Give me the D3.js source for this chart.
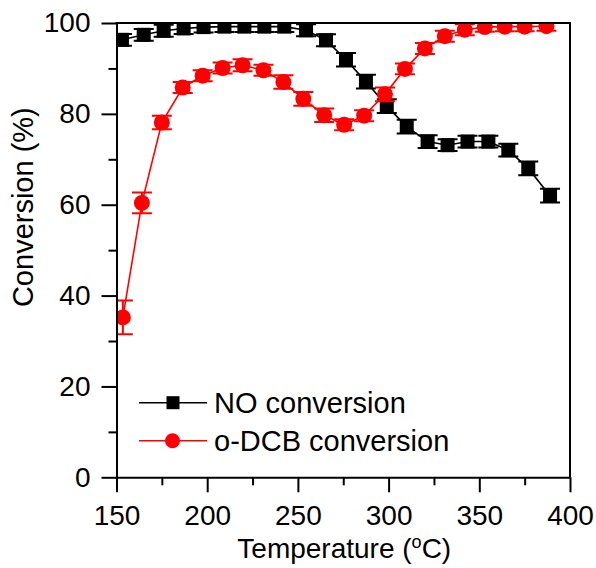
<!DOCTYPE html>
<html>
<head>
<meta charset="utf-8">
<script src="https://cdn.jsdelivr.net/npm/d3@7"></script>
<style>
  html, body { margin: 0; padding: 0; background: #fff; }
  svg { display: block; font-family: "Liberation Sans", Arial, sans-serif; }
</style>
</head>
<body>
<svg id="chart" width="596" height="568"></svg>
<script>
// ---- data ----
const noTemp = [153, 165, 176, 187, 198, 209.5, 220.5, 231.5, 242.5, 254.5, 265.5, 276.5, 287.5, 299, 310, 321.5, 332.5, 343.5, 355, 366, 377, 389];
const noVal  = [96.3, 97.4, 98.3, 98.8, 99.1, 99.2, 99.2, 99.2, 99.2, 98.4, 96.2, 91.9, 87.1, 81.7, 77.2, 73.9, 73.1, 73.9, 73.9, 72.0, 68.0, 62.0];
const noErr  = [1.3, 1.3, 1.3, 1.2, 1.2, 1.2, 1.2, 1.2, 1.2, 1.3, 1.3, 1.5, 1.5, 1.5, 1.5, 1.4, 1.3, 1.3, 1.3, 1.4, 1.5, 1.5];

const dcbTemp = [153.5, 164, 175, 186.5, 197.5, 208.5, 219.5, 231, 242, 253, 264.5, 275.5, 286.5, 298, 309, 320, 331, 342, 353, 364, 375, 387];
const dcbVal  = [35.2, 60.4, 78.1, 85.8, 88.4, 90.1, 90.7, 89.6, 87.0, 83.3, 79.7, 77.6, 79.6, 84.3, 89.9, 94.4, 97.1, 98.5, 99.1, 99.2, 99.2, 99.3];
const dcbErr  = [3.7, 2.3, 1.5, 1.2, 1.2, 1.2, 1.3, 1.2, 1.5, 1.5, 1.5, 1.2, 1.2, 1.5, 1.2, 1.2, 1.2, 1.2, 1.0, 1.0, 1.0, 1.0];

const xTicks = [150, 200, 250, 300, 350, 400];
const xMinor = [175, 225, 275, 325, 375];
const yTicks = [0, 20, 40, 60, 80, 100];
const yMinor = [10, 30, 50, 70, 90];

const seriesNames = ["NO conversion", "o-DCB conversion"];
const seriesColors = ["#000000", "#ff0000"];

// ---- layout ----
const L = 116.5, R = 570, T = 23, B = 477.3;
const SQ = 14, CR = 8;
const svg = d3.select("#chart");
const x = d3.scaleLinear().domain([150, 400]).range([L, R]);
const y = d3.scaleLinear().domain([0, 100]).range([B, T]);

svg.append("defs").append("clipPath").attr("id", "clip")
  .append("rect").attr("x", L).attr("y", T).attr("width", R - L).attr("height", B - T);

const plot = svg.append("g").attr("clip-path", "url(#clip)");

function drawSeries(temps, vals, errs, color, shape) {
  const data = temps.map((t, i) => ({ t, v: vals[i], e: errs[i] }));
  plot.append("path").datum(data)
    .attr("fill", "none").attr("stroke", color).attr("stroke-width", 1.6)
    .attr("d", d3.line().x(d => x(d.t)).y(d => y(d.v)));
  const eb = plot.append("g").attr("stroke", color).attr("stroke-width", 2);
  data.forEach(d => {
    const cx = x(d.t);
    eb.append("line").attr("x1", cx).attr("x2", cx).attr("y1", y(d.v - d.e)).attr("y2", y(d.v + d.e));
    eb.append("line").attr("x1", cx - 10).attr("x2", cx + 10).attr("y1", y(d.v + d.e)).attr("y2", y(d.v + d.e));
    eb.append("line").attr("x1", cx - 10).attr("x2", cx + 10).attr("y1", y(d.v - d.e)).attr("y2", y(d.v - d.e));
  });
  if (shape === "square") {
    plot.append("g").selectAll("rect").data(data).join("rect")
      .attr("x", d => x(d.t) - SQ / 2).attr("y", d => y(d.v) - SQ / 2)
      .attr("width", SQ).attr("height", SQ).attr("fill", color);
  } else {
    plot.append("g").selectAll("circle").data(data).join("circle")
      .attr("cx", d => x(d.t)).attr("cy", d => y(d.v)).attr("r", CR).attr("fill", color);
  }
}
drawSeries(noTemp, noVal, noErr, seriesColors[0], "square");
drawSeries(dcbTemp, dcbVal, dcbErr, seriesColors[1], "circle");

// ---- axes ----
function styleAxis(g) {
  g.selectAll("path").attr("stroke", "#000").attr("stroke-width", 2);
  g.selectAll("line").attr("stroke", "#000").attr("stroke-width", 2);
  g.selectAll("text").attr("font-size", 28).attr("fill", "#000")
    .attr("font-family", "'Liberation Sans', Arial, sans-serif");
}
const xAxis = svg.append("g").attr("transform", `translate(0,${B})`)
  .call(d3.axisBottom(x).tickValues(xTicks).tickSize(15).tickPadding(13).tickSizeOuter(0).tickFormat(d3.format("d")));
styleAxis(xAxis);
const xAxisMinor = svg.append("g").attr("transform", `translate(0,${B})`)
  .call(d3.axisBottom(x).tickValues(xMinor).tickSize(8).tickSizeOuter(0).tickFormat(""));
styleAxis(xAxisMinor);
xAxisMinor.select("path").remove();

const yAxis = svg.append("g").attr("transform", `translate(${L},0)`)
  .call(d3.axisLeft(y).tickValues(yTicks).tickSize(15).tickPadding(11).tickSizeOuter(0).tickFormat(d3.format("d")));
styleAxis(yAxis);
const yAxisMinor = svg.append("g").attr("transform", `translate(${L},0)`)
  .call(d3.axisLeft(y).tickValues(yMinor).tickSize(8).tickSizeOuter(0).tickFormat(""));
styleAxis(yAxisMinor);
yAxisMinor.select("path").remove();

// frame top / right
svg.append("line").attr("x1", L - 1).attr("x2", R + 1).attr("y1", T).attr("y2", T).attr("stroke", "#000").attr("stroke-width", 2);
svg.append("line").attr("x1", R).attr("x2", R).attr("y1", T).attr("y2", B).attr("stroke", "#000").attr("stroke-width", 2);

// ---- titles ----
const xt = svg.append("text").attr("x", (L + R) / 2 + 1).attr("y", 558)
  .attr("text-anchor", "middle").attr("font-size", 28).attr("fill", "#000");
xt.append("tspan").text("Temperature (");
xt.append("tspan").text("o").attr("font-size", 18).attr("dy", -10);
xt.append("tspan").text("C)").attr("dy", 10);

svg.append("text").attr("transform", `translate(33,${(T + B) / 2 - 43}) rotate(-90)`)
  .attr("text-anchor", "middle").attr("font-size", 29).attr("fill", "#000")
  .text("Conversion (%)");

// ---- legend ----
const legY = [402.7, 440.7];
seriesNames.forEach((name, i) => {
  const g = svg.append("g");
  g.append("line").attr("x1", 139).attr("x2", 207).attr("y1", legY[i]).attr("y2", legY[i])
    .attr("stroke", seriesColors[i]).attr("stroke-width", 1.6);
  if (i === 0) {
    g.append("rect").attr("x", 173 - 6.5).attr("y", legY[i] - 6.5).attr("width", 13).attr("height", 13).attr("fill", seriesColors[i]);
  } else {
    g.append("circle").attr("cx", 172.5).attr("cy", legY[i]).attr("r", 7.5).attr("fill", seriesColors[i]);
  }
  g.append("text").attr("x", 214).attr("y", legY[i] + 10.5).attr("font-size", 29).attr("fill", "#000").text(name);
});
</script>
</body>
</html>
